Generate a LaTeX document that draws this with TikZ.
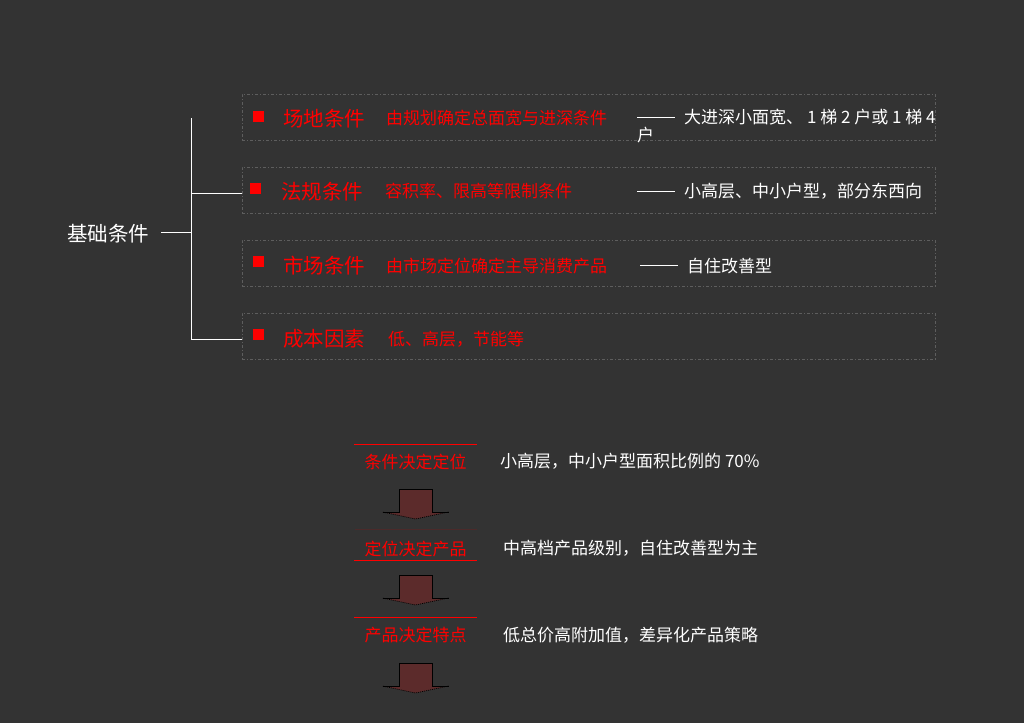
\documentclass[tikz,border=0pt]{standalone}
\usepackage{fontspec}
\setmainfont{Noto Sans CJK SC}
\definecolor{bgc}{HTML}{333333}
\definecolor{boxc}{HTML}{5E5E5E}
\definecolor{redc}{HTML}{FF0000}
\definecolor{arrc}{HTML}{5C2B2B}
\definecolor{dimred}{HTML}{4C2A2A}
\newcommand{\dsh}[1][0.9pt]{\rule[5.6pt]{38pt}{#1}\hspace{9pt}}
\begin{document}
\begin{tikzpicture}[x=1pt,y=-1pt,
  rowbox/.style={draw=boxc, line width=0.8pt, dash pattern=on 3pt off 2pt on 1pt off 2pt, minimum width=693pt, minimum height=46pt, anchor=north west, inner sep=0pt},
  bullet/.style={fill=redc, minimum size=11pt, inner sep=0pt},
  titletxt/.style={text=redc, font=\fontsize{20.5}{24}\selectfont, inner sep=0pt, anchor=base west},
  subtxt/.style={text=redc, font=\fontsize{17}{20}\selectfont, inner sep=0pt, anchor=base west},
  whitetxt/.style={text=white, font=\fontsize{17}{18}\selectfont, inner sep=0pt, anchor=base west, align=left},
  roottxt/.style={text=white, font=\fontsize{20.5}{24}\selectfont, inner sep=0pt, anchor=base west},
  treeline/.style={draw=white, line width=1pt},
  redline/.style={draw=redc, line width=1pt},
  dimline/.style={draw=dimred, line width=1pt},
  downarr/.pic={
    \fill[arrc] (-16.5,0) -- (16.5,0) -- (16.5,23) -- (33,23) -- (0,30) -- (-33,23) -- (-16.5,23) -- cycle;
    \draw[black, line width=0.7pt] (-33,23) -- (-16.5,23) -- (-16.5,0) -- (16.5,0) -- (16.5,23) -- (33,23);
    \draw[black, line width=0.7pt, dash pattern=on 1pt off 1pt] (33,23) -- (0,30) -- (-33,23);
  }
]
\fill[bgc] (0,0) rectangle (1024,723);
\useasboundingbox (0,0) rectangle (1024,723);

% row boxes
\node[rowbox] (b1) at (241.5,93.5) {};
\node[rowbox] (b2) at (241.5,166.5) {};
\node[rowbox] (b3) at (241.5,239.5) {};
\node[rowbox] (b4) at (241.5,312.5) {};

% bullets
\node[bullet] (s1) at (258.5,116) {};
\node[bullet] (s2) at (255.5,188.5) {};
\node[bullet] (s3) at (258.5,261.5) {};
\node[bullet] (s4) at (258.5,334.5) {};

% titles
\node[titletxt] (t1) at (283,126.3) {场地条件};
\node[titletxt] (t2) at (281,199.3) {法规条件};
\node[titletxt] (t3) at (283,273.3) {市场条件};
\node[titletxt] (t4) at (283,346.3) {成本因素};

% sub texts
\node[subtxt] (d1) at (386,124) {由规划确定总面宽与进深条件};
\node[subtxt] (d2) at (385,197) {容积率、限高等限制条件};
\node[subtxt] (d3) at (386,272) {由市场定位确定主导消费产品};
\node[subtxt] (d4) at (388,345) {低、高层，节能等};

% white notes
\node[whitetxt] (w1) at (637,141) {\dsh 大进深小面宽、 1 梯 2 户或 1 梯 4\\户};
\node[whitetxt] (w2) at (637,197) {\dsh 小高层、中小户型，部分东西向};
\node[whitetxt] (w3) at (640,272) {\dsh[1.6pt]自住改善型};

% tree
\node[roottxt] (root) at (67,241) {基础条件};
\coordinate (rs) at (161,232.5);
\coordinate (vm) at (191.5,232.5);
\coordinate (vt) at (191.5,118);
\coordinate (v2) at (191.5,193.5);
\coordinate (vb) at (191.5,339.5);
\draw[treeline] (rs) -- (vm);
\draw[treeline] (vt) -- (vb);
\draw[treeline] (v2) -- (v2 -| b2.west);
\draw[treeline] (vb) -- (vb -| b4.west);

% bottom flow
\coordinate (la1) at (354,444.5); \coordinate (lb1) at (477,444.5);
\coordinate (la2) at (355,529.5); \coordinate (lb2) at (477,529.5);
\coordinate (la3) at (354,560.5); \coordinate (lb3) at (477,560.5);
\coordinate (la4) at (354,617.5); \coordinate (lb4) at (477,617.5);
\draw[redline] (la1) -- (lb1);
\draw[dimline] (la2) -- (lb2);
\draw[redline] (la3) -- (lb3);
\draw[redline] (la4) -- (lb4);

\node[subtxt, anchor=base] (f1) at (415.5,468) {条件决定定位};
\node[subtxt, anchor=base] (f2) at (415.5,555) {定位决定产品};
\node[subtxt, anchor=base] (f3) at (415.5,641) {产品决定特点};

\node[whitetxt] (g1) at (500,467) {小高层，中小户型面积比例的 70\%};
\node[whitetxt] (g2) at (503,554) {中高档产品级别，自住改善型为主};
\node[whitetxt] (g3) at (503,641) {低总价高附加值，差异化产品策略};

\pic at (415.5,489) {downarr};
\pic at (415.5,575) {downarr};
\pic at (415.5,663) {downarr};
\end{tikzpicture}
\end{document}
